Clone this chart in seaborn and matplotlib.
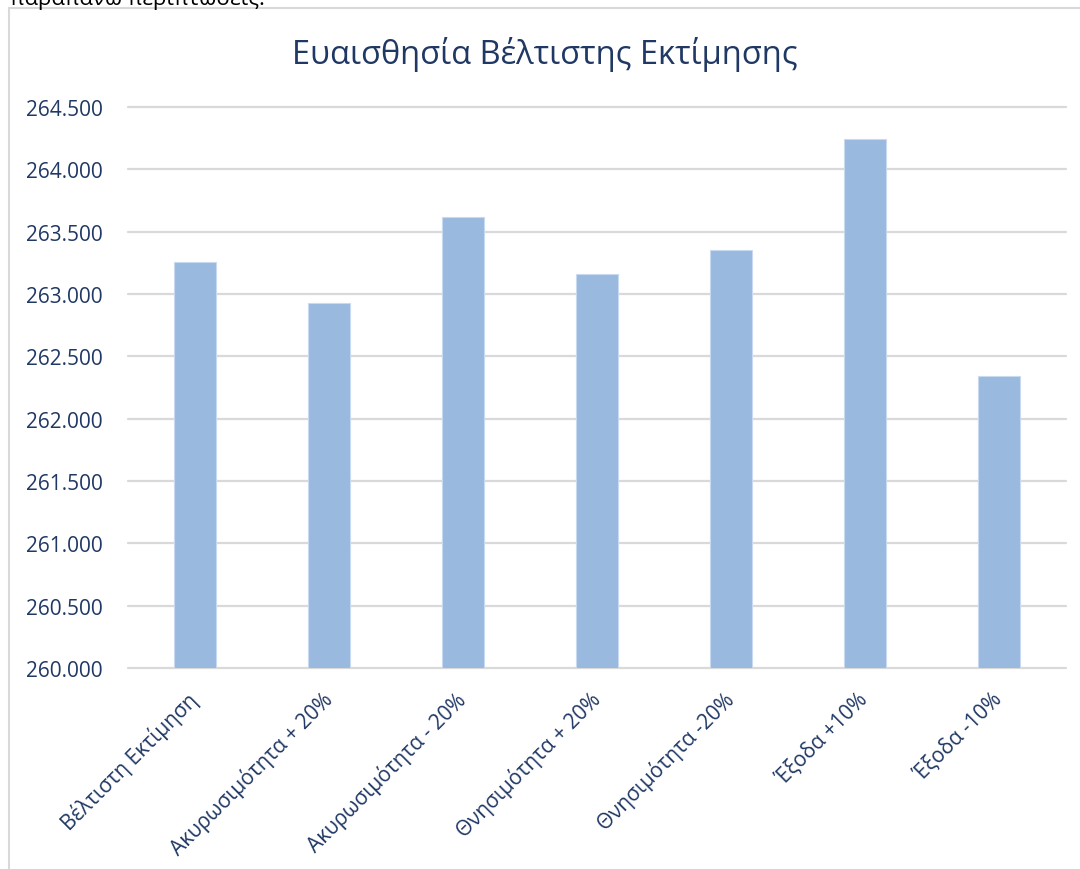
import matplotlib
matplotlib.use("Agg")
import matplotlib.pyplot as plt
import matplotlib.ticker as mticker
from matplotlib.patches import Rectangle
import numpy as np
import pandas as pd
import seaborn as sns

# Chart data
CATEGORIES = [
    "Βέλτιστη Εκτίμηση",
    "Ακυρωσιμότητα + 20%",
    "Ακυρωσιμότητα - 20%",
    "Θνησιμότητα + 20%",
    "Θνησιμότητα -20%",
    "Έξοδα +10%",
    "Έξοδα -10%",
]
VALUES = [263258, 262929, 263620, 263162, 263349, 264246, 262341]
Y_TICKS = [260000, 260500, 261000, 261500, 262000, 262500, 263000, 263500, 264000, 264500]

TITLE = "Ευαισθησία Βέλτιστης Εκτίμησης"
PAGE_TEXT = "παραπάνω περιπτώσεις."

NAVY = "#203864"
BAR = "#9AB9DF"
GRID = "#D9D9D9"

sns.set_theme(style="white")
plt.rcParams["font.family"] = ["Open Sans", "DejaVu Sans"]

df = pd.DataFrame({"case": CATEGORIES, "value": VALUES})

fig = plt.figure(figsize=(10.8, 8.7), dpi=100)
ax = fig.add_axes([128 / 1080, 1 - 669 / 870, (1066 - 128) / 1080, (669 - 108) / 870])

# page remnant above the chart (cut by the screenshot) and chart frame
fig.text(10 / 1080, 1 - 5 / 870, PAGE_TEXT, fontsize=16, color="black", va="baseline", ha="left")
fig.patches.append(Rectangle((9 / 1080, -0.05), 1.2, 1 - 9 / 870 + 0.05, transform=fig.transFigure,
                             fill=False, edgecolor=GRID, linewidth=1.5))

sns.barplot(data=df, x="case", y="value", color=BAR, width=0.31, saturation=1,
            edgecolor="#C9DAF0", linewidth=0.8, ax=ax, zorder=3)

ax.set_ylim(Y_TICKS[0], Y_TICKS[-1])
ax.set_xlim(-0.5, len(CATEGORIES) - 0.5)
ax.set_yticks(Y_TICKS)
ax.yaxis.set_major_formatter(mticker.FuncFormatter(lambda v, p: f"{int(v):,}".replace(",", ".")))
for y in Y_TICKS:
    ax.axhline(y, color=GRID, linewidth=1.6, zorder=1, clip_on=False)

ax.grid(False)
for s in ax.spines.values():
    s.set_visible(False)
ax.set_xlabel("")
ax.set_ylabel("")
ax.tick_params(axis="y", length=0, pad=18, labelsize=15, labelcolor=NAVY)
ax.tick_params(axis="x", length=0, pad=20, labelsize=15, labelcolor=NAVY)
plt.setp(ax.get_xticklabels(), rotation=45, ha="right", va="center", rotation_mode="anchor")

fig.text(545 / 1080, 1 - 55 / 870, TITLE, fontsize=23.5, color=NAVY, ha="center", va="center")

fig.savefig("out.png", dpi=100)
plt.close(fig)
